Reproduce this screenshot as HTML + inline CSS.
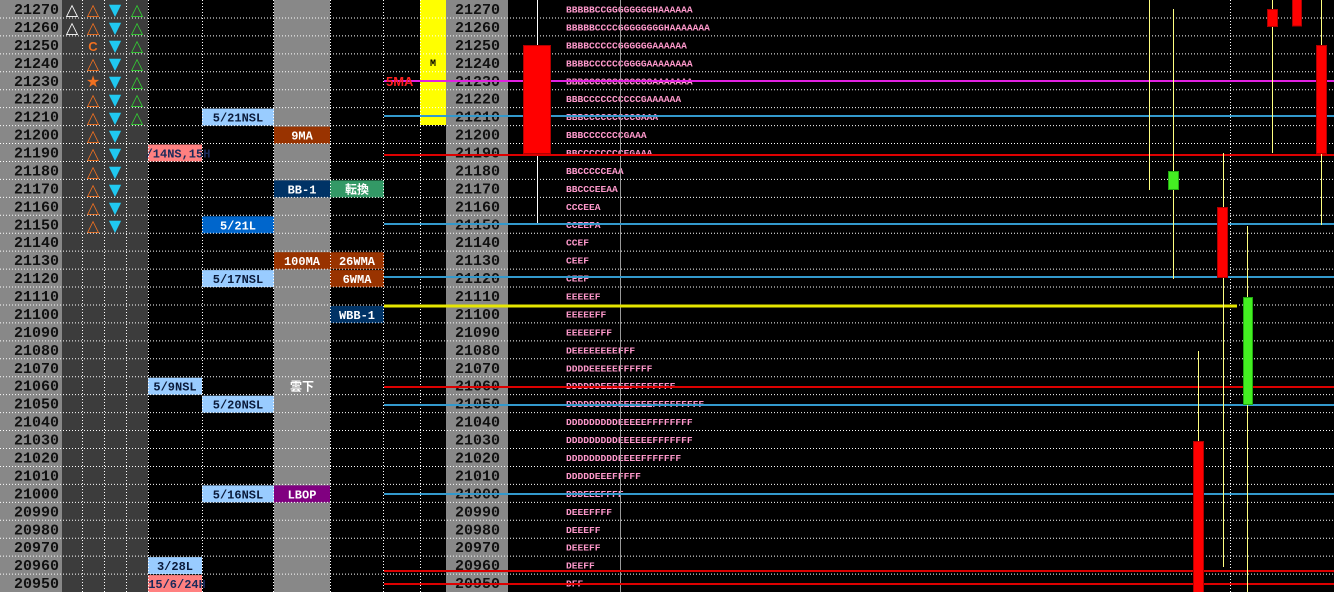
<!DOCTYPE html>
<html><head><meta charset="utf-8"><style>
html,body{margin:0;padding:0;background:#000;overflow:hidden}
svg{display:block}
.p{font-family:"Liberation Mono",monospace;font-size:15px;font-weight:bold;fill:#111}
.t{font-family:"Liberation Mono",monospace;font-size:9.6px;font-weight:bold;fill:#ff99cc}
.l{font-family:"Liberation Mono","Noto Sans CJK JP",monospace;font-size:12px;font-weight:bold;text-anchor:middle}
.i{font-family:"DejaVu Sans",sans-serif;font-size:16px;text-anchor:middle;font-weight:bold}
</style></head><body>
<svg width="1334" height="592" xmlns="http://www.w3.org/2000/svg">
<rect width="1334" height="592" fill="#000"/>
<rect x="0" y="0" width="62" height="592" fill="#888"/>
<rect x="62" y="0" width="86" height="592" fill="#3c3c3c"/>
<rect x="274" y="0" width="56" height="592" fill="#888"/>
<rect x="446" y="0" width="62" height="592" fill="#888"/>
<rect x="420" y="0" width="26" height="125" fill="#ffff00"/>
<text x="433" y="66" style="font-family:'Liberation Mono';font-size:10px;font-weight:bold;text-anchor:middle" fill="#000">M</text>

<!-- labels -->
<rect x="202" y="108.6" width="72" height="17" fill="#99ccff"/><text class="l" x="238" y="121.6" fill="#0a1a3a">5/21NSL</text>
<rect x="274" y="126.6" width="56" height="17" fill="#993300"/><text class="l" x="302" y="139.6" fill="#fff">9MA</text>
<rect x="148" y="144.5" width="54" height="17" fill="#ff8080"/><text class="l" x="178" y="157.5" fill="#1a2a5a">/14NS,15H</text>
<rect x="274" y="180.4" width="56" height="17" fill="#003366"/><text class="l" x="302" y="193.4" fill="#fff">BB-1</text>
<rect x="330" y="180.4" width="54" height="17" fill="#339966"/><text class="l" x="357" y="193.4" fill="#fff">転換</text>
<rect x="202" y="216.3" width="72" height="17" fill="#0066cc"/><text class="l" x="238" y="229.3" fill="#fff">5/21L</text>
<rect x="274" y="252.2" width="56" height="17" fill="#993300"/><text class="l" x="302" y="265.2" fill="#fff">100MA</text>
<rect x="330" y="252.2" width="54" height="17" fill="#993300"/><text class="l" x="357" y="265.2" fill="#fff">26WMA</text>
<rect x="202" y="270.1" width="72" height="17" fill="#99ccff"/><text class="l" x="238" y="283.1" fill="#0a1a3a">5/17NSL</text>
<rect x="330" y="270.1" width="54" height="17" fill="#993300"/><text class="l" x="357" y="283.1" fill="#fff">6WMA</text>
<rect x="330" y="306" width="54" height="17" fill="#003366"/><text class="l" x="357" y="319" fill="#fff">WBB-1</text>
<rect x="148" y="377.7" width="54" height="17" fill="#99ccff"/><text class="l" x="175" y="390.7" fill="#0a1a3a">5/9NSL</text>
<text class="l" x="302" y="390.7" fill="#fff">雲下</text>
<rect x="202" y="395.7" width="72" height="17" fill="#99ccff"/><text class="l" x="238" y="408.7" fill="#0a1a3a">5/20NSL</text>
<rect x="202" y="485.4" width="72" height="17" fill="#99ccff"/><text class="l" x="238" y="498.4" fill="#0a1a3a">5/16NSL</text>
<rect x="274" y="485.4" width="56" height="17" fill="#800080"/><text class="l" x="302" y="498.4" fill="#fff">LBOP</text>
<rect x="148" y="557.1" width="54" height="17" fill="#99ccff"/><text class="l" x="175" y="570.1" fill="#0a1a3a">3/28L</text>
<rect x="148" y="575.1" width="54" height="17" fill="#ff8080"/><text class="l" x="177" y="588.1" fill="#1a2a5a">15/6/24H</text>

<!-- icons -->
<g class="i">
<text x="72" y="15" fill="#fff">△</text><text x="72" y="33" fill="#fff">△</text>
<text x="93" y="15" fill="#f07020">△</text><text x="93" y="33" fill="#f07020">△</text>
<text x="93" y="51" fill="#f07020" style="font-family:'Liberation Sans';font-size:13px">C</text>
<text x="93" y="69" fill="#f07020">△</text><text x="93" y="87" fill="#f07020">★</text>
<text x="93" y="105" fill="#f07020">△</text><text x="93" y="123" fill="#f07020">△</text><text x="93" y="141" fill="#f07020">△</text><text x="93" y="159" fill="#f07020">△</text><text x="93" y="177" fill="#f07020">△</text><text x="93" y="195" fill="#f07020">△</text><text x="93" y="213" fill="#f07020">△</text><text x="93" y="231" fill="#f07020">△</text>
<text x="115" y="15" fill="#20c8f0">▼</text><text x="115" y="33" fill="#20c8f0">▼</text><text x="115" y="51" fill="#20c8f0">▼</text><text x="115" y="69" fill="#20c8f0">▼</text><text x="115" y="87" fill="#20c8f0">▼</text><text x="115" y="105" fill="#20c8f0">▼</text><text x="115" y="123" fill="#20c8f0">▼</text><text x="115" y="141" fill="#20c8f0">▼</text><text x="115" y="159" fill="#20c8f0">▼</text><text x="115" y="177" fill="#20c8f0">▼</text><text x="115" y="195" fill="#20c8f0">▼</text><text x="115" y="213" fill="#20c8f0">▼</text><text x="115" y="231" fill="#20c8f0">▼</text>
<text x="137" y="15" fill="#33cc33">△</text><text x="137" y="33" fill="#33cc33">△</text><text x="137" y="51" fill="#33cc33">△</text><text x="137" y="69" fill="#33cc33">△</text><text x="137" y="87" fill="#33cc33">△</text><text x="137" y="105" fill="#33cc33">△</text><text x="137" y="123" fill="#33cc33">△</text>
</g>

<!-- prices -->
<g class="p" text-anchor="end">
<text x="59" y="14">21270</text><text x="59" y="31.9">21260</text><text x="59" y="49.9">21250</text><text x="59" y="67.8">21240</text><text x="59" y="85.8">21230</text><text x="59" y="103.7">21220</text><text x="59" y="121.6">21210</text><text x="59" y="139.6">21200</text><text x="59" y="157.5">21190</text><text x="59" y="175.5">21180</text><text x="59" y="193.4">21170</text><text x="59" y="211.3">21160</text><text x="59" y="229.3">21150</text><text x="59" y="247.2">21140</text><text x="59" y="265.2">21130</text><text x="59" y="283.1">21120</text><text x="59" y="301">21110</text><text x="59" y="319">21100</text><text x="59" y="336.9">21090</text><text x="59" y="354.9">21080</text><text x="59" y="372.8">21070</text><text x="59" y="390.7">21060</text><text x="59" y="408.7">21050</text><text x="59" y="426.6">21040</text><text x="59" y="444.6">21030</text><text x="59" y="462.5">21020</text><text x="59" y="480.4">21010</text><text x="59" y="498.4">21000</text><text x="59" y="516.3">20990</text><text x="59" y="534.3">20980</text><text x="59" y="552.2">20970</text><text x="59" y="570.1">20960</text><text x="59" y="588.1">20950</text>
</g>
<g class="p" text-anchor="end">
<text x="500" y="14">21270</text><text x="500" y="31.9">21260</text><text x="500" y="49.9">21250</text><text x="500" y="67.8">21240</text><text x="500" y="85.8">21230</text><text x="500" y="103.7">21220</text><text x="500" y="121.6">21210</text><text x="500" y="139.6">21200</text><text x="500" y="157.5">21190</text><text x="500" y="175.5">21180</text><text x="500" y="193.4">21170</text><text x="500" y="211.3">21160</text><text x="500" y="229.3">21150</text><text x="500" y="247.2">21140</text><text x="500" y="265.2">21130</text><text x="500" y="283.1">21120</text><text x="500" y="301">21110</text><text x="500" y="319">21100</text><text x="500" y="336.9">21090</text><text x="500" y="354.9">21080</text><text x="500" y="372.8">21070</text><text x="500" y="390.7">21060</text><text x="500" y="408.7">21050</text><text x="500" y="426.6">21040</text><text x="500" y="444.6">21030</text><text x="500" y="462.5">21020</text><text x="500" y="480.4">21010</text><text x="500" y="498.4">21000</text><text x="500" y="516.3">20990</text><text x="500" y="534.3">20980</text><text x="500" y="552.2">20970</text><text x="500" y="570.1">20960</text><text x="500" y="588.1">20950</text>
</g>

<!-- TPO -->
<g class="t">
<text x="566" y="12.5">BBBBBCCGGGGGGGGHAAAAAA</text>
<text x="566" y="30.4">BBBBBCCCCGGGGGGGGHAAAAAAA</text>
<text x="566" y="48.4">BBBBCCCCCGGGGGGAAAAAA</text>
<text x="566" y="66.3">BBBBCCCCCCGGGGAAAAAAAA</text>
<text x="566" y="84.3">BBBCCCCCCCCCCGGAAAAAAA</text>
<text x="566" y="102.2">BBBCCCCCCCCCCGAAAAAA</text>
<text x="566" y="120.1">BBBCCCCCCCCCGAAA</text>
<text x="566" y="138.1">BBBCCCCCCCGAAA</text>
<text x="566" y="156">BBCCCCCCCCEGAAA</text>
<text x="566" y="174">BBCCCCCEAA</text>
<text x="566" y="191.9">BBCCCEEAA</text>
<text x="566" y="209.8">CCCEEA</text>
<text x="566" y="227.8">CCEEFA</text>
<text x="566" y="245.7">CCEF</text>
<text x="566" y="263.7">CEEF</text>
<text x="566" y="281.6">CEEF</text>
<text x="566" y="299.5">EEEEEF</text>
<text x="566" y="317.5">EEEEEFF</text>
<text x="566" y="335.4">EEEEEFFF</text>
<text x="566" y="353.4">DEEEEEEEEFFF</text>
<text x="566" y="371.3">DDDDEEEEEFFFFFF</text>
<text x="566" y="389.2">DDDDDDEEEEEFFFFFFFF</text>
<text x="566" y="407.2">DDDDDDDDDEEEEEEFFFFFFFFF</text>
<text x="566" y="425.1">DDDDDDDDDEEEEEFFFFFFFF</text>
<text x="566" y="443.1">DDDDDDDDDEEEEEEFFFFFFF</text>
<text x="566" y="461">DDDDDDDDDEEEEFFFFFFF</text>
<text x="566" y="478.9">DDDDDEEEFFFFF</text>
<text x="566" y="496.9">DDDEEEFFFF</text>
<text x="566" y="514.8">DEEEFFFF</text>
<text x="566" y="532.8">DEEEFF</text>
<text x="566" y="550.7">DEEEFF</text>
<text x="566" y="568.6">DEEFF</text>
<text x="566" y="586.6">DFF</text>
</g>

<!-- grid -->
<g stroke="#fff" stroke-width="1" stroke-dasharray="1,2">
<path d="M0 17.94H1334M0 35.88H1334M0 53.82H1334M0 71.76H1334M0 89.7H1334M0 107.64H1334M0 125.58H1334M0 143.52H1334M0 161.46H1334M0 179.4H1334M0 197.34H1334M0 215.28H1334M0 233.22H1334M0 251.16H1334M0 269.1H1334M0 287.04H1334M0 304.98H1334M0 322.92H1334M0 340.86H1334M0 358.8H1334M0 376.74H1334M0 394.68H1334M0 412.62H1334M0 430.56H1334M0 448.5H1334M0 466.44H1334M0 484.38H1334M0 502.32H1334M0 520.26H1334M0 538.2H1334M0 556.14H1334M0 574.08H1334"/>
<path d="M82.5 0V592M104.5 0V592M126.5 0V592M148.5 0V592M202.5 0V592M273.5 0V592M330.5 0V592M383.5 0V592M420.5 0V592M1230.5 0V592"/>
</g>
<line x1="620.5" y1="0" x2="620.5" y2="592" stroke="#999" stroke-width="1"/>
<line x1="537.5" y1="0" x2="537.5" y2="225" stroke="#fff" stroke-width="1"/>

<!-- horizontal indicator lines -->
<line x1="384" y1="81" x2="1334" y2="81" stroke="#e020e0" stroke-width="2"/>
<text x="386" y="86" style="font-family:'Liberation Sans';font-size:13px;font-weight:bold" fill="#ff2020">5MA</text>
<g stroke="#3399cc" stroke-width="2">
<line x1="384" y1="116" x2="1334" y2="116"/><line x1="384" y1="224" x2="1334" y2="224"/><line x1="384" y1="277" x2="1334" y2="277"/><line x1="384" y1="405" x2="1334" y2="405"/><line x1="384" y1="494" x2="1334" y2="494"/>
</g>
<g stroke="#dd0000" stroke-width="2">
<line x1="384" y1="155" x2="1334" y2="155"/><line x1="384" y1="387" x2="1334" y2="387"/><line x1="384" y1="571" x2="1334" y2="571"/><line x1="384" y1="584" x2="1334" y2="584"/>
</g>
<line x1="384" y1="306" x2="1237" y2="306" stroke="#e6e600" stroke-width="3"/>

<!-- wicks -->
<g stroke="#ffff80" stroke-width="1">
<line x1="1149.5" y1="0" x2="1149.5" y2="190"/>
<line x1="1173.5" y1="9" x2="1173.5" y2="279"/>
<line x1="1223.5" y1="153" x2="1223.5" y2="567"/>
<line x1="1247.5" y1="226" x2="1247.5" y2="592"/>
<line x1="1272.5" y1="0" x2="1272.5" y2="153"/>
<line x1="1321.5" y1="0" x2="1321.5" y2="225"/>
<line x1="1198.5" y1="351" x2="1198.5" y2="441"/>
</g>
<!-- candles -->
<g fill="#ff0000" stroke="#b00000" stroke-width="1">
<rect x="523.5" y="45.5" width="27" height="108"/>
<rect x="1217.5" y="207.5" width="10" height="70"/>
<rect x="1267.5" y="9.5" width="10" height="17"/>
<rect x="1292.5" y="-1" width="9" height="27"/>
<rect x="1316.5" y="45.5" width="10" height="108"/>
<rect x="1193.5" y="441.5" width="10" height="152"/>
</g>
<g fill="#44ee22" stroke="#22aa11" stroke-width="1">
<rect x="1168.5" y="171.5" width="10" height="18"/>
<rect x="1243.5" y="297.5" width="9" height="107"/>
</g>
</svg>
</body></html>
